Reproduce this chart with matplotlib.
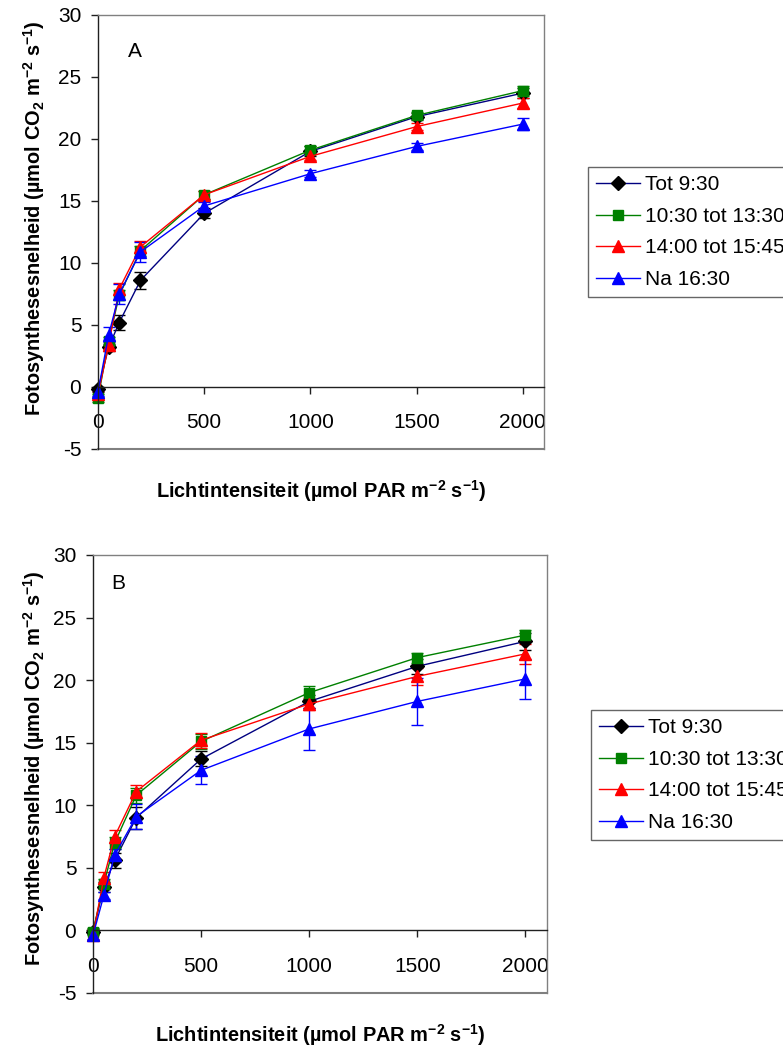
import matplotlib
matplotlib.use("Agg")
import matplotlib.pyplot as plt
from matplotlib.lines import Line2D

plt.rcParams['font.family'] = ['Liberation Sans', 'DejaVu Sans']
plt.rcParams['mathtext.fontset'] = 'custom'
plt.rcParams['mathtext.rm'] = 'Liberation Sans'
plt.rcParams['mathtext.bf'] = 'Liberation Sans:bold'
plt.rcParams['mathtext.default'] = 'bf'
plt.rcParams['axes.unicode_minus'] = False

# light intensity steps (umol PAR m-2 s-1)
par = [0, 50, 100, 200, 500, 1000, 1500, 2000]

labels = ["Tot 9:30", "10:30 tot 13:30", "14:00 tot 15:45", "Na 16:30"]

# panel A: mean photosynthesis rate and error
a_tot930 = [-0.2, 3.2, 5.2, 8.6, 14.0, 19.0, 21.8, 23.7]
a_1030 = [-0.9, 3.7, 7.4, 11.0, 15.5, 19.1, 21.9, 23.9]
a_1400 = [-0.6, 3.4, 7.9, 11.3, 15.5, 18.6, 21.0, 22.9]
a_na1630 = [-0.4, 4.2, 7.5, 10.9, 14.6, 17.2, 19.4, 21.2]
a_err_tot930 = [0.2, 0.3, 0.6, 0.7, 0.4, 0.4, 0.3, 0.4]
a_err_1030 = [0.3, 0.3, 0.4, 0.4, 0.3, 0.3, 0.3, 0.4]
a_err_1400 = [0.3, 0.3, 0.5, 0.5, 0.3, 0.3, 0.3, 0.4]
a_err_na1630 = [0.3, 0.6, 0.8, 0.8, 0.3, 0.3, 0.3, 0.5]

# panel B
b_tot930 = [-0.1, 3.5, 5.6, 9.0, 13.7, 18.3, 21.1, 23.1]
b_1030 = [-0.1, 3.7, 7.0, 10.8, 15.1, 19.0, 21.8, 23.6]
b_1400 = [-0.4, 4.2, 7.5, 11.1, 15.2, 18.1, 20.3, 22.1]
b_na1630 = [-0.4, 2.8, 6.0, 9.1, 12.8, 16.1, 18.3, 20.1]
b_err_tot930 = [0.2, 0.4, 0.6, 0.9, 0.6, 0.5, 0.6, 0.7]
b_err_1030 = [0.3, 0.4, 0.5, 0.6, 0.6, 0.5, 0.4, 0.4]
b_err_1400 = [0.4, 0.5, 0.5, 0.5, 0.6, 0.5, 0.7, 0.8]
b_err_na1630 = [0.3, 0.3, 0.5, 1.0, 1.1, 1.7, 1.9, 1.6]

# line colour, marker, marker colour, marker size per series
styles = [("#000080", "D", "black", 7),
          ("#008000", "s", "#008000", 7.5),
          ("#FF0000", "^", "#FF0000", 8.5),
          ("#0000FF", "^", "#0000FF", 8.5)]
err_colors = ["black", "#008000", "#FF0000", "#0000FF"]

TICK_FS = 15
LABEL_FS = 14.4
LEG_FS = 15
W, H = 783, 1052
fig = plt.figure(figsize=(W / 100, H / 100), dpi=100)


def panel(rect, series, errors, letter, letter_xy, ylab_xy, xlab_xy, leg_xy):
    ax = fig.add_axes(rect)
    for (lc, mk, mc, ms), ys, es, ec in zip(styles, series, errors, err_colors):
        ax.errorbar(par, ys, yerr=es, color=lc, lw=1, marker=mk, ms=ms,
                    mfc=mc, mec=mc, ecolor=ec, elinewidth=1, capsize=4,
                    capthick=1, clip_on=False)
    ax.set_xlim(0, 2100)
    ax.set_ylim(-5, 30)
    ax.set_xticks([0, 500, 1000, 1500, 2000])
    ax.set_yticks(range(-5, 31, 5))
    for s in ax.spines.values():
        s.set_color("#808080")
        s.set_linewidth(1)
    ax.spines['left'].set_color("#202020")
    ax.spines['bottom'].set_position(('data', 0))
    ax.spines['bottom'].set_color("#202020")
    ax.axhline(-5, color="#808080", lw=1.5, clip_on=False)
    ax.tick_params(axis='both', direction='out', length=5, width=1,
                   color="#202020", labelsize=TICK_FS)
    ax.tick_params(axis='x', pad=14)
    ax.tick_params(axis='y', pad=7)
    ax.text(letter_xy[0], letter_xy[1], letter, transform=ax.transAxes,
            fontsize=TICK_FS, ha='center', va='center')
    ax.set_ylabel(r'Fotosynthesesnelheid (µmol CO$_2$ m$^{-2}$ s$^{-1}$)',
                  fontsize=LABEL_FS, fontweight='bold')
    ax.yaxis.set_label_coords(*ylab_xy)
    ax.set_xlabel(r'Lichtintensiteit (µmol PAR m$^{-2}$ s$^{-1}$)',
                  fontsize=LABEL_FS, fontweight='bold')
    ax.xaxis.set_label_coords(*xlab_xy)

    handles = [Line2D([], [], color=lc, lw=1, marker=mk, ms=ms, mfc=mc, mec=mc)
               for lc, mk, mc, ms in styles]
    leg = fig.legend(handles, labels, loc='upper left', bbox_to_anchor=leg_xy,
                     fontsize=LEG_FS, frameon=True, fancybox=False,
                     edgecolor="#404040", borderpad=0.4, labelspacing=0.6,
                     handlelength=2.1, handletextpad=0.25, borderaxespad=0)
    leg.get_frame().set_linewidth(1)
    return ax


panel([98 / W, 1 - 449 / H, 446 / W, 434 / H],
      [a_tot930, a_1030, a_1400, a_na1630],
      [a_err_tot930, a_err_1030, a_err_1400, a_err_na1630],
      "A", (0.083, 0.915), (-0.114, 0.532), (0.5, -0.067),
      (588 / W, 1 - 167 / H))

panel([93 / W, 1 - 993 / H, 454 / W, 438 / H],
      [b_tot930, b_1030, b_1400, b_na1630],
      [b_err_tot930, b_err_1030, b_err_1400, b_err_na1630],
      "B", (0.055, 0.936), (-0.102, 0.514), (0.5, -0.066),
      (591 / W, 1 - 710 / H))

fig.savefig("out.png", dpi=100)
